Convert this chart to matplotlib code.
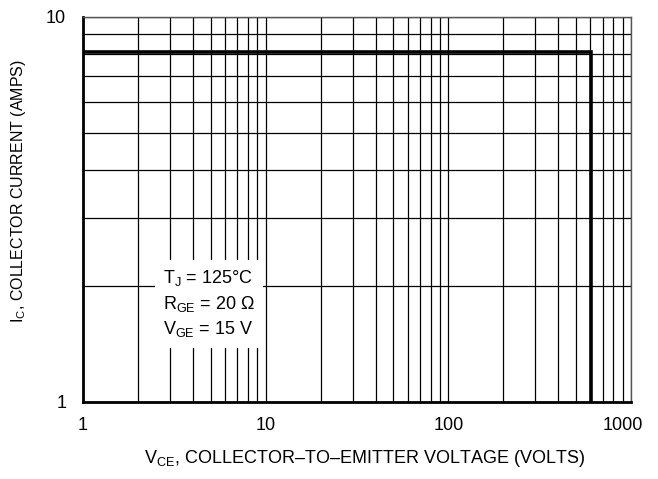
import matplotlib.pyplot as plt
from matplotlib.ticker import FixedLocator, NullFormatter
from matplotlib.transforms import ScaledTranslation

plt.rcParams['font.family'] = ['Liberation Sans', 'DejaVu Sans']
plt.rcParams['mathtext.fontset'] = 'custom'
plt.rcParams['mathtext.rm'] = 'Liberation Sans'

# safe operating area boundary
vce = [1, 605, 605]
ic = [8.1, 8.1, 1]

x_ticks = [1, 10, 100, 1000]
x_labels = ['1', '10', '100', '1000']
y_ticks = [1, 10]
y_labels = ['1', '10']

fig = plt.figure(figsize=(6.58, 4.79), dpi=100)
ax = fig.add_axes([0.126, 0.161, 0.833, 0.804])

ax.set_xscale('log')
ax.set_yscale('log')
ax.set_xlim(1, 1000)
ax.set_ylim(1, 10)

ax.plot(vce, ic, color='black', lw=2.6, solid_joinstyle='miter', zorder=4)

ax.set_xticks(x_ticks)
ax.set_xticklabels(x_labels)
ax.set_yticks(y_ticks)
ax.set_yticklabels(y_labels)
ax.xaxis.set_minor_locator(FixedLocator([m * d for d in [1, 10, 100] for m in range(2, 10)]))
ax.yaxis.set_minor_locator(FixedLocator(range(2, 10)))
ax.xaxis.set_minor_formatter(NullFormatter())
ax.yaxis.set_minor_formatter(NullFormatter())
ax.tick_params(which='both', length=0, labelsize=13)
ax.tick_params(axis='x', pad=11)
ax.tick_params(axis='y', pad=12)
ax.grid(which='both', color='black', lw=0.9)

# 1000 sits a bit left of the right edge in the original
lab = ax.get_xticklabels()[-1]
lab.set_transform(lab.get_transform() + ScaledTranslation(-8 / 100, 0, fig.dpi_scale_trans))

for s in ['left', 'bottom']:
    ax.spines[s].set_linewidth(2)
for s in ['top', 'right']:
    ax.spines[s].set_linewidth(1)
    ax.spines[s].set_color('#555555')

ax.set_xlabel(r'$\mathregular{V_{CE}}$, COLLECTOR–TO–EMITTER VOLTAGE (VOLTS)', fontsize=13)
ax.set_ylabel(r'$\mathregular{I_C}$, COLLECTOR CURRENT (AMPS)', fontsize=11.5)
ax.xaxis.set_label_coords(0.513, -0.12)
ax.yaxis.set_label_coords(-0.10, 0.548)

ax.text(2.74, 1.80,
        '$\\mathregular{T_J}$ = 125°C\n$\\mathregular{R_{GE}}$ = 20 Ω\n$\\mathregular{V_{GE}}$ = 15 V',
        fontsize=13, ha='left', va='center', linespacing=1.38, zorder=5,
        bbox=dict(facecolor='white', edgecolor='none', pad=6))

fig.savefig('out.png', dpi=100)
